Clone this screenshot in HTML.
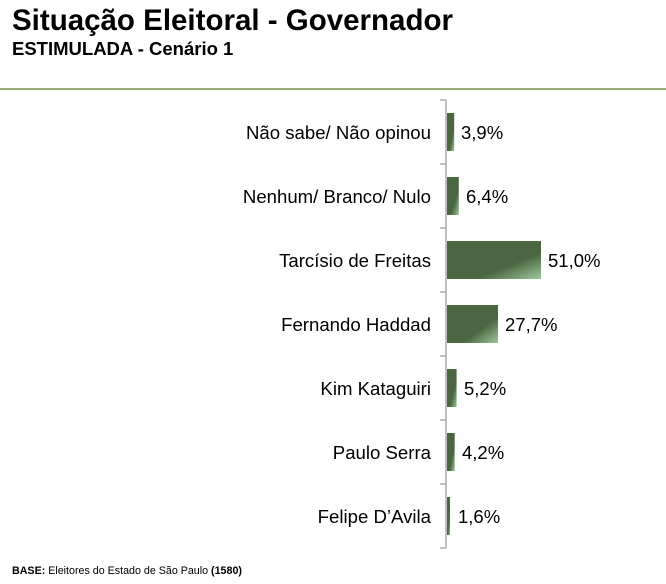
<!DOCTYPE html>
<html><head><meta charset="utf-8"><style>
body{margin:0;background:#fff;width:666px;height:579px;overflow:hidden;font-family:"Liberation Sans",Arial,sans-serif}
</style></head><body>
<svg width="666" height="579" xmlns="http://www.w3.org/2000/svg" font-family="Liberation Sans, Arial, sans-serif">
<defs>
<linearGradient id="g" x1="0" y1="0" x2="1" y2="1">
<stop offset="0.65" stop-color="#4a6741"/><stop offset="1" stop-color="#9cc89a"/>
</linearGradient>
</defs>
<text x="12" y="30" font-size="29.5" font-weight="bold" fill="#000">Situação Eleitoral - Governador</text>
<text x="12" y="55" font-size="18.5" font-weight="bold" fill="#000">ESTIMULADA - Cenário 1</text>
<rect x="0" y="88" width="666" height="2" fill="#9aad7a"/>
<g stroke="#aaa" stroke-width="1.5">
<line x1="446" y1="100" x2="446" y2="548"/>
<line x1="440" y1="100" x2="446" y2="100"/>
<line x1="440" y1="164" x2="446" y2="164"/>
<line x1="440" y1="228" x2="446" y2="228"/>
<line x1="440" y1="292" x2="446" y2="292"/>
<line x1="440" y1="356" x2="446" y2="356"/>
<line x1="440" y1="420" x2="446" y2="420"/>
<line x1="440" y1="484" x2="446" y2="484"/>
<line x1="440" y1="548" x2="446" y2="548"/>
</g>
<g fill="url(#g)">
<rect x="447" y="113" width="7.2" height="38"/>
<rect x="447" y="177" width="11.8" height="38"/>
<rect x="447" y="241" width="94" height="38"/>
<rect x="447" y="305" width="51" height="38"/>
<rect x="447" y="369" width="9.6" height="38"/>
<rect x="447" y="433" width="7.7" height="38"/>
<rect x="447" y="497" width="3" height="38"/>
</g>
<g font-size="18.6" fill="#000" text-anchor="end">
<text x="431" y="139">Não sabe/ Não opinou</text>
<text x="431" y="203">Nenhum/ Branco/ Nulo</text>
<text x="431" y="267">Tarcísio de Freitas</text>
<text x="431" y="331">Fernando Haddad</text>
<text x="431" y="395">Kim Kataguiri</text>
<text x="431" y="459">Paulo Serra</text>
<text x="431" y="523">Felipe D’Avila</text>
</g>
<g font-size="18.5" fill="#000">
<text x="461" y="139">3,9%</text>
<text x="466" y="203">6,4%</text>
<text x="548" y="267">51,0%</text>
<text x="505" y="331">27,7%</text>
<text x="464" y="395">5,2%</text>
<text x="462" y="459">4,2%</text>
<text x="458" y="523">1,6%</text>
</g>
<text x="12" y="574" font-size="10.7" fill="#000"><tspan font-weight="bold">BASE:</tspan> Eleitores do Estado de São Paulo <tspan font-weight="bold">(1580)</tspan></text>
</svg>
</body></html>
